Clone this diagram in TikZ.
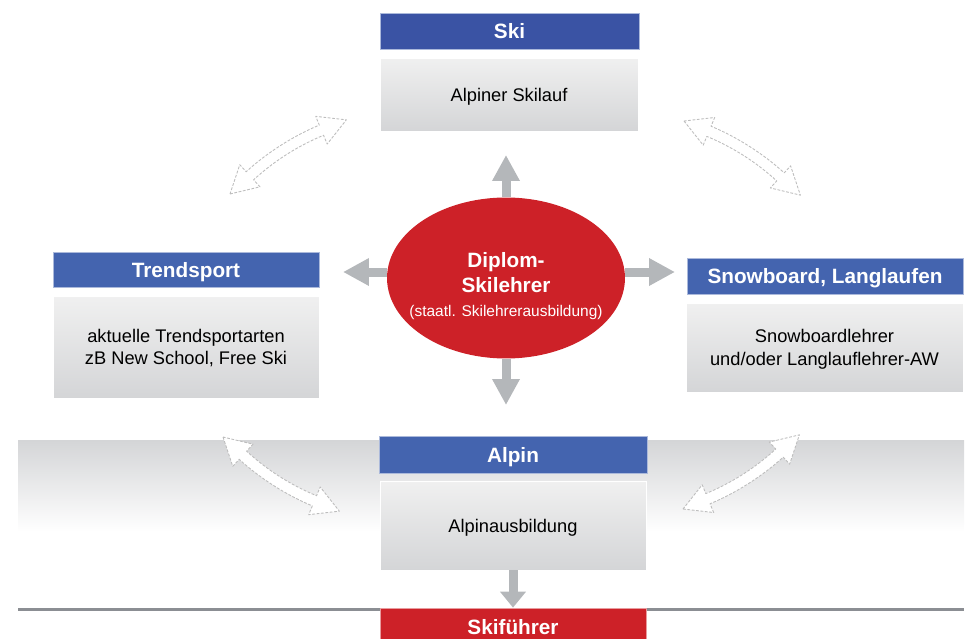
\documentclass[tikz,border=0pt]{standalone}
\usepackage{fontspec}
\setmainfont{Liberation Sans}
\usetikzlibrary{arrows.meta,shapes.geometric}
\definecolor{skiblue}{HTML}{3A53A4}
\definecolor{titleblue}{HTML}{4464AF}
\definecolor{diplomred}{HTML}{CD2128}
\definecolor{boxtop}{HTML}{F0F0F0}
\definecolor{boxbottom}{HTML}{D4D5D7}
\definecolor{arrowgray}{HTML}{B4B7BA}
\definecolor{linegray}{HTML}{8B8E93}
\definecolor{outlinegray}{HTML}{BDBDBD}
\def\hollowarrow(#1)(#2)(#3){\begin{scope}[shift={(#1)},rotate=#2]
	\draw[hollow] (0,0) -- ([rotate around={#3:(0,0)}]27,15) -- ([rotate around={#3:(0,0)}]27,5.5)
		.. controls ([rotate around={#3:(0,0)}]55,5.5) and ([rotate around={-(#3):(138,0)}]83,5.5) .. ([rotate around={-(#3):(138,0)}]111,5.5)
		-- ([rotate around={-(#3):(138,0)}]111,15) -- (138,0) -- ([rotate around={-(#3):(138,0)}]111,-15) -- ([rotate around={-(#3):(138,0)}]111,-5.5)
		.. controls ([rotate around={-(#3):(138,0)}]83,-5.5) and ([rotate around={#3:(0,0)}]55,-5.5) .. ([rotate around={#3:(0,0)}]27,-5.5)
		-- ([rotate around={#3:(0,0)}]27,-15) -- cycle;
	\end{scope}}
\tikzset{
	titlebox/.style={rectangle, fill=titleblue, draw=titleblue!45, line width=0.4pt, text=white, font=\fontsize{11.8}{14}\selectfont\bfseries, text height=0.86em, text depth=0em, inner sep=0pt},
	bodybox/.style={rectangle, top color=boxtop, bottom color=boxbottom, draw=white, line width=0.4pt, align=center, font=\fontsize{10.4}{12.8}\selectfont, text depth=-2.5pt, inner sep=0pt},
	blockarrow/.style={draw=arrowgray, line width=0.18cm, -{Triangle[width=0.52cm,length=0.52cm]}},
	hollow/.style={fill=white, draw=outlinegray, line width=0.5pt, dash pattern=on 1.6pt off 0.9pt, line join=round},
}

\begin{document}
\begin{tikzpicture}[x=0.02cm, y=-0.02cm]
			%%%%% START %%%%%
			\useasboundingbox (0,0) rectangle (975,639);
			\clip (0,0) rectangle (975,639);
			
			\shade[top color=boxbottom, bottom color=white] (18,440) rectangle (964,532);
			\fill[linegray] (18,607.5) rectangle (964,610.5);
			
			\node[titlebox, fill=skiblue, minimum width=5.18cm, minimum height=0.72cm] (ski) at (509.5,31) {Ski};
			\node[bodybox, minimum width=5.16cm, minimum height=1.46cm] (skibody) at (509,94.5) {Alpiner Skilauf};
			
			\node[titlebox, minimum width=5.32cm, minimum height=0.7cm] (trend) at (186,269.5) {Trendsport};
			\node[bodybox, minimum width=5.32cm, minimum height=2.04cm] (trendbody) at (186,347) {aktuelle Trendsportarten\\zB New School, Free Ski};
			
			\node[titlebox, minimum width=5.52cm, minimum height=0.72cm] (snow) at (825,276) {Snowboard, Langlaufen};
			\node[bodybox, minimum width=5.54cm, minimum height=1.78cm] (snowbody) at (824.5,347.5) {Snowboardlehrer\\und/oder Langlauflehrer-AW};
			
			\node[titlebox, minimum width=5.36cm, minimum height=0.74cm] (alpin) at (513,454.5) {Alpin};
			\node[bodybox, minimum width=5.32cm, minimum height=1.78cm] (alpinbody) at (513,525.5) {Alpinausbildung};
			
			\node[titlebox, fill=diplomred, draw=diplomred!45, minimum width=5.32cm, minimum height=0.74cm] (skifuehrer) at (513,626.5) {Skiführer};
			
			\node[ellipse, fill=diplomred, minimum width=4.76cm, minimum height=3.22cm, inner sep=0pt] (diplom) at (506,278) {};
			\node[text=white, align=center, inner sep=0pt, font=\fontsize{11.8}{14.2}\selectfont\bfseries] (diplomtext) at (506,286) {Diplom-\\Skilehrer\\[-0.5pt]{\fontsize{8.8}{10}\mdseries\selectfont(staatl. Skilehrerausbildung)}};
			
			\coordinate (tipup) at (506,155);
			\coordinate (tipdown) at (506,405);
			\coordinate (tipleft) at (343,272);
			\coordinate (tipright) at (675,272);
			\draw[blockarrow] (diplom) -- (tipup);
			\draw[blockarrow] (diplom) -- (tipdown);
			\draw[blockarrow] (diplom.west |- tipleft) -- (tipleft);
			\draw[blockarrow] (diplom.east |- tipright) -- (tipright);
			\draw[blockarrow, -{Triangle[width=0.5cm,length=0.32cm]}] (alpinbody) -- (skifuehrer);
			
			\hollowarrow(230,194)(32.5)(10)
			\hollowarrow(684,121)(-32.5)(10)
			\hollowarrow(223,437)(-32.5)(-10)
			\hollowarrow(683,509)(32.5)(-10)
			%%%%% END %%%%%
\end{tikzpicture}
\end{document}
